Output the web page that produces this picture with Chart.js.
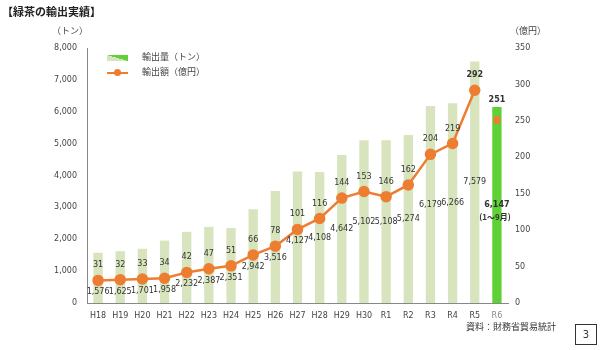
<!DOCTYPE html>
<html>
<head>
<meta charset="utf-8">
<script src="https://cdn.jsdelivr.net/npm/chart.js@4"></script>
<style>
  body { margin: 0; background: #fff; }
  #wrap { position: relative; width: 600px; height: 350px; font-family: "Noto Sans CJK JP", "DejaVu Sans", sans-serif; color: #333; }
  #wrap canvas { position: absolute; left: 0; top: 0; }
  .txt { position: absolute; white-space: nowrap; }
  #title { left: 2px; top: 3px; font-size: 11px; font-weight: bold; color: #222; }
  #unitL { left: 52px; top: 24px; font-size: 9px; color: #444; }
  #unitR { left: 510px; top: 24px; font-size: 9px; color: #444; }
  #source { left: 466px; top: 320px; font-size: 9px; color: #333; }
  #page { left: 575px; top: 324px; width: 20px; height: 19px; border: 1px solid #333; font-family: "DejaVu Sans"; font-size: 10px; text-align: center; line-height: 19px; }
  .leg { left: 107px; font-size: 9px; color: #444; }
  .leg span.icon { display: inline-block; width: 21px; height: 6px; vertical-align: middle; margin-right: 14px; position: relative; }
  #leg1 { top: 50px; }
  #leg2 { top: 65px; }
  #leg1 .icon { background: linear-gradient(to bottom left, #5fd136 50%, #d7e4bd 50%); }
  #leg2 .icon { height: 2px; background: #ed7d31; }
  #leg2 .icon::after { content: ""; position: absolute; left: 7px; top: -3px; width: 7px; height: 7px; border-radius: 50%; background: #ed7d31; }
</style>
</head>
<body>
<div id="wrap">
  <canvas id="c" width="600" height="350"></canvas>
  <div class="txt" id="title">【緑茶の輸出実績】</div>
  <div class="txt" id="unitL">（トン）</div>
  <div class="txt" id="unitR">（億円）</div>
  <div class="txt leg" id="leg1"><span class="icon"></span>輸出量（トン）</div>
  <div class="txt leg" id="leg2"><span class="icon"></span>輸出額（億円）</div>
  <div class="txt" id="source">資料：財務省貿易統計</div>
  <div class="txt" id="page">3</div>
</div>
<script>
const categories = ['H18', 'H19', 'H20', 'H21', 'H22', 'H23', 'H24', 'H25', 'H26', 'H27',
  'H28', 'H29', 'H30', 'R1', 'R2', 'R3', 'R4', 'R5', 'R6'];
// 輸出量（トン）
const tonnage = [1576, 1625, 1701, 1958, 2232, 2387, 2351, 2942, 3516, 4127,
  4108, 4642, 5102, 5108, 5274, 6179, 6266, 7579, 6147];
// 輸出額（億円）
const amount = [31, 32, 33, 34, 42, 47, 51, 66, 78, 101,
  116, 144, 153, 146, 162, 204, 219, 292, 251];
const leftTicks = [0, 1000, 2000, 3000, 4000, 5000, 6000, 7000, 8000];
const rightTicks = [0, 50, 100, 150, 200, 250, 300, 350];
const partialNote = '(1～9月)';

const last = categories.length - 1;
const orange = '#ed7d31';
const numFont = '"DejaVu Sans", sans-serif';

const labelPlugin = {
  id: 'labels',
  afterDatasetsDraw(chart) {
    const ctx = chart.ctx;
    const yL = chart.scales.y;
    const bars = chart.getDatasetMeta(0).data;
    const line = chart.getDatasetMeta(1).data;
    const part = chart.getDatasetMeta(2).data;
    ctx.save();
    ctx.textAlign = 'center';
    ctx.textBaseline = 'middle';
    ctx.fillStyle = '#333';
    categories.forEach((c, i) => {
      const pt = i === last ? part[i] : line[i];
      const bold = i >= last - 1;
      ctx.font = (bold ? 'bold ' : '') + '8px ' + numFont;
      // amount label
      const ay = i === last ? bars[i].y - 7 : pt.y - 15;
      ctx.fillText(String(amount[i]), pt.x, ay);
      // tonnage label
      ctx.font = (i === last ? 'bold ' : '') + '8px ' + numFont;
      const ty = Math.max(pt.y + 12, yL.getPixelForValue(tonnage[i] / 2));
      ctx.fillText(tonnage[i].toLocaleString('en-US'), pt.x, ty);
      if (i === last) {
        ctx.font = 'bold 8px "Noto Sans CJK JP", sans-serif';
        ctx.fillText(partialNote, pt.x - 2, ty + 12);
      }
    });
    ctx.restore();
  }
};

new Chart(document.getElementById('c'), {
  data: {
    labels: categories,
    datasets: [
      {
        type: 'bar',
        label: '輸出量（トン）',
        data: tonnage,
        yAxisID: 'y',
        backgroundColor: categories.map((c, i) => i === last ? '#5fd136' : '#d7e4bd'),
        barPercentage: 0.42,
        categoryPercentage: 1,
        order: 3
      },
      {
        type: 'line',
        label: '輸出額（億円）',
        data: amount.map((v, i) => i === last ? null : v),
        yAxisID: 'y1',
        borderColor: orange,
        backgroundColor: orange,
        borderWidth: 2.5,
        pointRadius: 4.5,
        pointHoverRadius: 4.5,
        spanGaps: false,
        order: 2
      },
      {
        type: 'line',
        label: '輸出額（億円）R6',
        data: amount.map((v, i) => i === last ? v : null),
        yAxisID: 'y1',
        borderColor: orange,
        backgroundColor: orange,
        showLine: false,
        pointRadius: 3.5,
        order: 1
      }
    ]
  },
  options: {
    responsive: false,
    animation: false,
    layout: { padding: { left: 0, right: 0, top: 48, bottom: 0 } },
    plugins: { legend: { display: false }, tooltip: { enabled: false } },
    scales: {
      x: {
        grid: { display: false, drawTicks: false },
        border: { display: true, color: '#888', width: 1 },
        ticks: {
          padding: 8,
          color: (ctx) => ctx.index === last ? '#888' : '#444',
          font: { family: numFont, size: 8 },
          maxRotation: 0, autoSkip: false
        },
        afterFit(s) { s.height = 47; }
      },
      y: {
        position: 'left',
        min: 0, max: 8000,
        afterBuildTicks(s) { s.ticks = leftTicks.map(v => ({ value: v })); },
        grid: { display: false, drawTicks: false },
        border: { display: true, color: '#888', width: 1 },
        ticks: {
          padding: 10,
          color: '#444',
          font: { family: numFont, size: 8 },
          callback: v => v.toLocaleString('en-US')
        },
        afterFit(s) { s.width = 87; }
      },
      y1: {
        position: 'right',
        min: 0, max: 350,
        afterBuildTicks(s) { s.ticks = rightTicks.map(v => ({ value: v })); },
        grid: { display: false, drawTicks: false },
        border: { display: false },
        ticks: {
          padding: 7,
          color: '#444',
          font: { family: numFont, size: 8 }
        },
        afterFit(s) { s.width = 92; }
      }
    }
  },
  plugins: [labelPlugin]
});
</script>
</body>
</html>
